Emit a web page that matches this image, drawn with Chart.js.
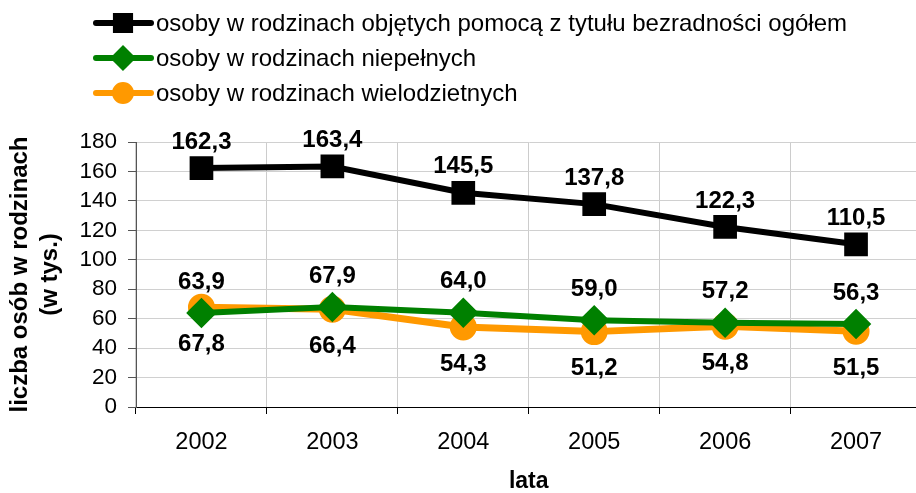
<!DOCTYPE html>
<html>
<head>
<meta charset="utf-8">
<script src="https://cdn.jsdelivr.net/npm/chart.js@4/dist/chart.umd.min.js"></script>
<style>
  html, body { margin: 0; padding: 0; background: #fff; overflow: hidden; }
  #wrap { width: 916px; height: 493px; overflow: hidden; }
</style>
</head>
<body>
<div id="wrap"><canvas id="lataChart" width="940" height="493"></canvas></div>
<script>
var years = ['2002', '2003', '2004', '2005', '2006', '2007'];
var ogolem = [162.3, 163.4, 145.5, 137.8, 122.3, 110.5];
var niepelne = [63.9, 67.9, 64.0, 59.0, 57.2, 56.3];
var wielodzietne = [67.8, 66.4, 54.3, 51.2, 54.8, 51.5];
var yMin = 0, yMax = 180, yStep = 20;

var FONT = '"Liberation Sans", Arial, sans-serif';
Chart.defaults.font.family = FONT;
Chart.defaults.color = '#000';

function fmt(v) {
  return v.toFixed(1).replace('.', ',');
}

// value labels above / below points
var valueLabels = {
  id: 'valueLabels',
  afterDatasetsDraw: function (chart) {
    var ctx = chart.ctx;
    ctx.save();
    ctx.font = 'bold 24px ' + FONT;
    ctx.fillStyle = '#000';
    ctx.textAlign = 'center';
    ctx.textBaseline = 'middle';
    chart.data.datasets.forEach(function (ds, i) {
      var meta = chart.getDatasetMeta(i);
      meta.data.forEach(function (pt, j) {
        ctx.fillText(fmt(ds.data[j]), pt.x, pt.y + ds.labelShift);
      });
    });
    ctx.restore();
  }
};

// legend stacked in a column, top left
var stackLegend = {
  id: 'stackLegend',
  afterDraw: function (chart) {
    var ctx = chart.ctx;
    ctx.save();
    chart.data.datasets.forEach(function (ds, i) {
      var y = 23 + i * 35;
      ctx.strokeStyle = ds.borderColor;
      ctx.lineWidth = 6;
      ctx.lineCap = 'round';
      ctx.beginPath();
      ctx.moveTo(96, y);
      ctx.lineTo(151, y);
      ctx.stroke();
      Chart.helpers.drawPoint(ctx, {
        pointStyle: ds.pointStyle,
        radius: ds.pointRadius * 0.8,
        borderWidth: 1
      }, 123, y);
      ctx.fillStyle = ds.borderColor;
      ctx.fill();
      ctx.fillStyle = '#000';
      ctx.font = '24px ' + FONT;
      ctx.textAlign = 'left';
      ctx.textBaseline = 'middle';
      ctx.fillText(ds.label, 156, y + 1);
    });
    ctx.restore();
  }
};

var chart = new Chart(document.getElementById('lataChart'), {
    type: 'line',
    data: {
        labels: years,
        datasets: [{
            label: 'osoby w rodzinach objętych pomocą z tytułu bezradności ogółem',
            data: ogolem,
            borderColor: '#000000',
            backgroundColor: '#000000',
            borderWidth: 6,
            pointStyle: 'rect',
            pointRadius: 12.5,
            labelShift: -26
        }, {
            label: 'osoby w rodzinach niepełnych',
            data: niepelne,
            borderColor: '#008000',
            backgroundColor: '#008000',
            borderWidth: 6,
            pointStyle: 'rectRot',
            pointRadius: 11,
            labelShift: -31
        }, {
            label: 'osoby w rodzinach wielodzietnych',
            data: wielodzietne,
            borderColor: '#ff9900',
            backgroundColor: '#ff9900',
            borderWidth: 7,
            pointStyle: 'circle',
            pointRadius: 10,
            labelShift: 37
        }]
    },
    plugins: [valueLabels, stackLegend],
    options: {
      responsive: false,
      animation: false,
      layout: { padding: { top: 142, right: 12, left: 0, bottom: 0 } },
      plugins: {
        legend: { display: false },
        tooltip: { enabled: false }
      },
      scales: {
        x: {
          offset: true,
          grid: { offset: true, color: '#cccccc', tickColor: '#000', tickLength: 7 },
          border: { color: '#000' },
          ticks: { font: { size: 23.5 }, padding: 14, maxRotation: 0 },
          title: {
            display: true, text: 'lata',
            font: { size: 23, weight: 'bold', lineHeight: 1 },
            padding: { top: 0, bottom: 0 }
          },
          afterFit: function (s) { s.height = 86; }
        },
        y: {
          min: yMin, max: yMax,
          ticks: { stepSize: yStep, autoSkip: false, font: { size: 22.5 }, padding: 11 },
          grid: { color: '#d0d0d0', tickColor: '#555', tickLength: 8 },
          border: { color: '#555' },
          title: {
            display: true, text: ['liczba osób w rodzinach', '(w tys.)'],
            font: { size: 24, weight: 'bold', lineHeight: 1.25 },
            padding: { top: 5, bottom: 0 }
          },
          afterFit: function (s) { s.width = 136; }
        }
      }
    }
});
</script>
</body>
</html>
